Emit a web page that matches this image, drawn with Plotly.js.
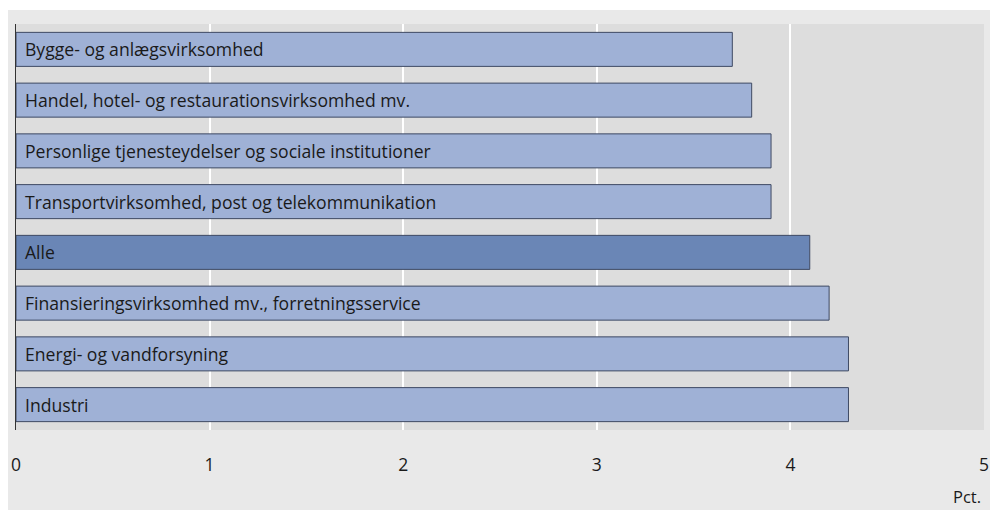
<!DOCTYPE html>
<html>
<head>
<meta charset="utf-8">
<script src="https://cdn.plot.ly/plotly-3.0.1.min.js"></script>
<style>html,body{margin:0;padding:0;background:#fff;}#chart{width:990px;height:510px;}</style>
</head>
<body>
<div id="chart"></div>
<script>
// Categories listed top to bottom
const categories = [
  "Bygge- og anlægsvirksomhed",
  "Handel, hotel- og restaurationsvirksomhed mv.",
  "Personlige tjenesteydelser og sociale institutioner",
  "Transportvirksomhed, post og telekommunikation",
  "Alle",
  "Finansieringsvirksomhed mv., forretningsservice",
  "Energi- og vandforsyning",
  "Industri"
];
const values = [3.7, 3.8, 3.9, 3.9, 4.1, 4.2, 4.3, 4.3];
const tickValues = [0, 1, 2, 3, 4, 5];
const tickLabels = ["0", "1", "2", "3", "4", "5"];
const axisUnit = "Pct.";

const fillLight = "#9fb1d6";
const fillDark = "#6a86b6";
const colors = categories.map(c => c === "Alle" ? fillDark : fillLight);

const trace = {
  type: "bar",
  orientation: "h",
  y: categories,
  x: values,
  marker: { color: colors, line: { color: "#3f4a63", width: 1 } },
  hoverinfo: "x+y"
};

const annotations = categories.map(c => ({
  x: 0, y: c, xref: "x", yref: "y",
  text: c, showarrow: false, xanchor: "left", yanchor: "middle",
  xshift: 7, font: { family: "Open Sans, sans-serif", size: 17.6, color: "#1a1a1a" }
}));
annotations.push({
  x: 1, y: 0, xref: "paper", yref: "paper", text: axisUnit, showarrow: false,
  xanchor: "right", yanchor: "middle", yshift: -66, xshift: -1,
  font: { family: "Open Sans, sans-serif", size: 16.5, color: "#1a1a1a" }
});

const layout = {
  width: 990, height: 510,
  margin: { l: 16, r: 6, t: 24, b: 80, pad: 0 },
  paper_bgcolor: "#e9e9e9",
  plot_bgcolor: "#dddddd",
  bargap: 0.33,
  showlegend: false,
  xaxis: {
    range: [0, 5], tickvals: tickValues, ticktext: tickLabels,
    showgrid: true, gridcolor: "#ffffff", gridwidth: 2,
    zeroline: false, showline: false, ticks: "",
    ticklabelstandoff: 22,
    tickfont: { family: "Open Sans, sans-serif", size: 17.5, color: "#1a1a1a" },
    fixedrange: true
  },
  yaxis: {
    autorange: "reversed", showticklabels: false, ticks: "",
    showgrid: false, zeroline: false,
    showline: true, linecolor: "#333333", linewidth: 1,
    fixedrange: true
  },
  annotations: annotations,
  shapes: [
    { type: "rect", xref: "paper", yref: "paper", layer: "above",
      x0: -16/968, x1: -8/968, y0: -80/406, y1: 1 + 24/406,
      fillcolor: "#ffffff", line: { width: 0 } },
    { type: "rect", xref: "paper", yref: "paper", layer: "above",
      x0: -16/968, x1: 1 + 6/968, y0: 1 + 14/406, y1: 1 + 24/406,
      fillcolor: "#ffffff", line: { width: 0 } }
  ]
};

Plotly.newPlot("chart", [trace], layout, { displayModeBar: false, staticPlot: true });
</script>
</body>
</html>
